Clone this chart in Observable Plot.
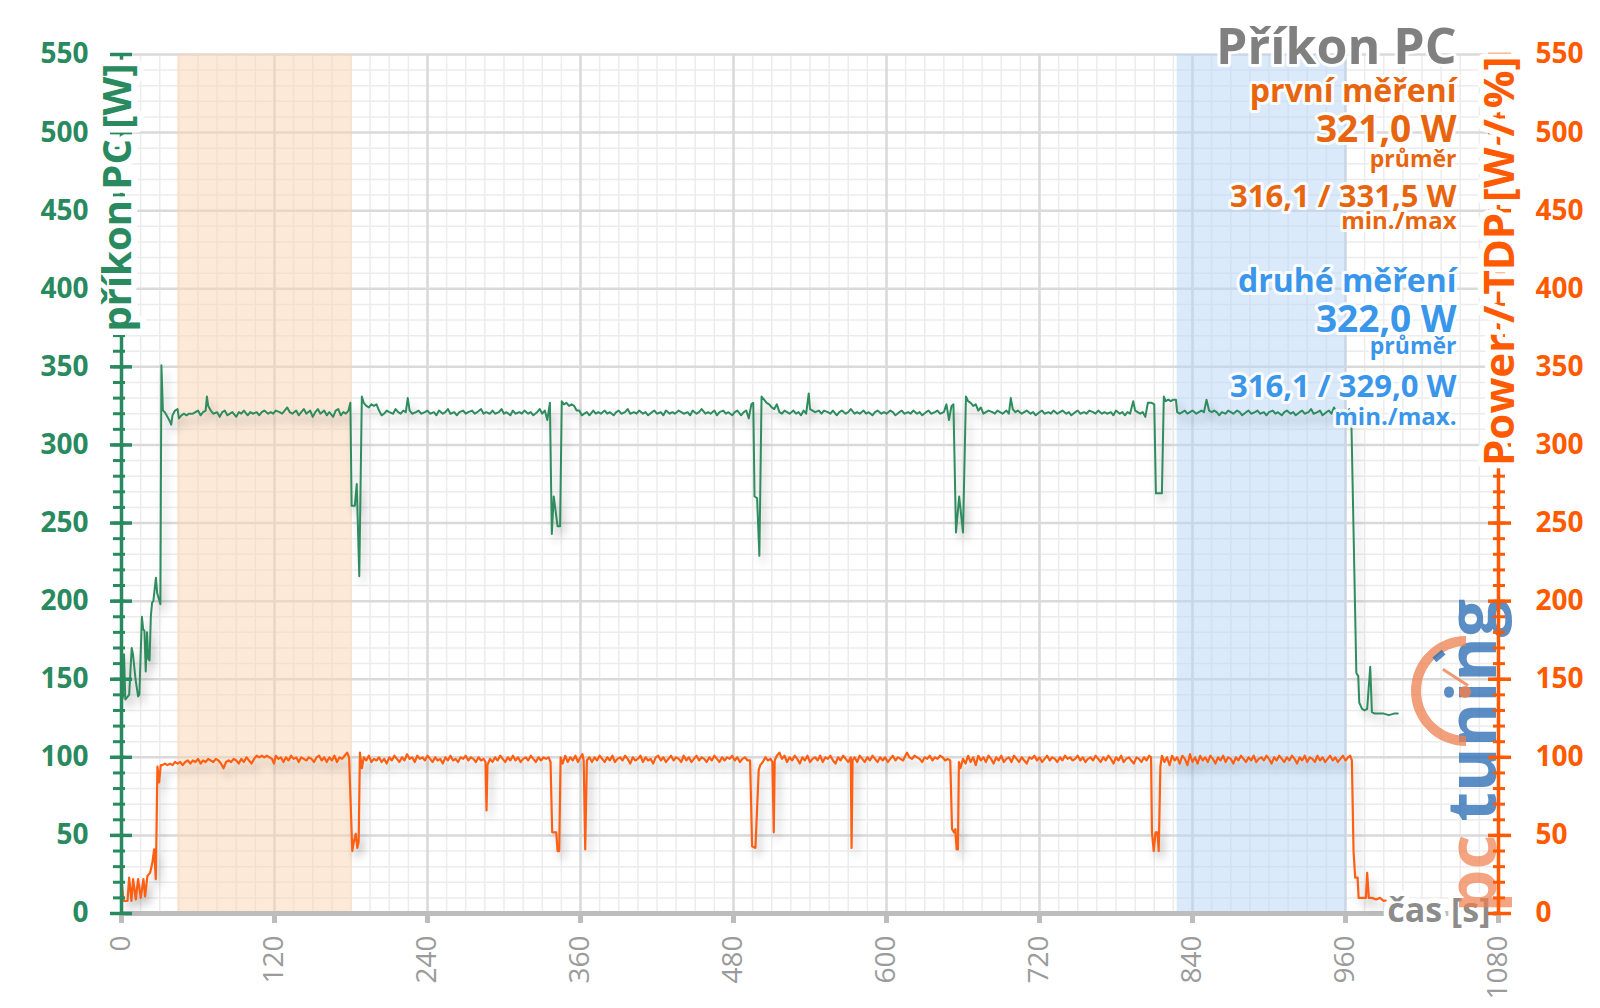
<!DOCTYPE html>
<html><head><meta charset="utf-8">
<script src="https://cdn.jsdelivr.net/npm/d3@7"></script>
<script src="https://cdn.jsdelivr.net/npm/@observablehq/plot@0.6"></script>
<style>
html,body{margin:0;padding:0;background:#fff;}
#chart{position:relative;width:1600px;height:1008px;overflow:hidden;}
#chart svg{font-family:"Open Sans",sans-serif;}
g[aria-label="line"]{filter:drop-shadow(4px 7px 4px rgba(0,0,0,0.24));}
#gauge{position:absolute;left:1411px;top:636px;width:90px;height:90px;border-radius:50%;border:10px solid transparent;border-top-color:rgba(238,128,80,0.75);border-left-color:rgba(238,128,80,0.75);transform:rotate(-45deg);}
#needle{position:absolute;left:1438px;top:684px;width:30px;height:3px;background:rgba(238,128,80,0.8);transform:rotate(33deg);transform-origin:100% 50%;}
#hub{position:absolute;left:1459px;top:686px;width:12px;height:12px;border-radius:50%;background:rgba(238,128,80,0.85);}
#mark{position:absolute;left:1436px;top:650px;width:6px;height:12px;background:rgba(45,110,180,0.8);transform:rotate(50deg);}
</style></head><body><div id="chart"><div id="gauge"></div><div id="needle"></div><div id="hub"></div><div id="mark"></div></div>
<script>
// ---- tick labels ----
const xTicks = [0,120,240,360,480,600,720,840,960,1080];
const yTicks = [0,50,100,150,200,250,300,350,400,450,500,550];

// ---- highlighted ranges (s) ----
const bandStart = [44, 828];
const bandEnd = [181, 961];

// ---- text block ----
const titleText = "Příkon PC";
const firstLines = ["první měření", "321,0 W", "průměr", "316,1 / 331,5 W", "min./max"];
const secondLines = ["druhé měření", "322,0 W", "průměr", "316,1 / 329,0 W", "min./max."];

// ---- series: PC power draw [W] as [time s, value] ----
const pcPower = [[0,172],[1,138],[2,166],[3,137],[5,139],[6,140],[8,170],[9,166],[11,150],[13,139],[14,140],[16,190],[17,182],[18,181],[19,155],[20,180],[21,163],[22,162],[23,190],[24,199],[25,200],[27,215],[28,205],[30.5,198],[31.3,351],[32.5,322],[34,321],[36,318],[38,315],[39,313],[40,319],[42,322],[44,323],[45,317],[47,319],[49,320],[51,319],[53,320],[56,320],[58,321],[60,322],[62,319],[64,321],[66,322],[67,331],[68,325],[70,322],[72,320],[75,321],[77,318],[79,321],[81,322],[83,319],[85,320],[87,321],[90,318],[92,321],[94,320],[96,322],[99,319],[101,321],[103,320],[106,321],[108,319],[110,321],[112,322],[115,320],[117,321],[119,320],[121,322],[124,321],[126,320],[128,322],[130,324],[132,321],[134,320],[137,322],[139,319],[141,321],[143,323],[145,320],[148,322],[150,318],[152,321],[154,323],[156,320],[159,322],[161,319],[163,321],[166,318],[168,322],[170,323],[172,319],[174,321],[176,320],[178,322],[179.5,327],[180.5,261],[183,261],[184.5,275],[186.5,216],[188.5,331],[190,327],[192,325],[194,324],[196,326],[198,325],[200,326],[202,322],[204,319],[206,320],[208,322],[210,321],[213,320],[215,323],[217,321],[219,320],[221,322],[223,321],[224.5,330],[226,322],[228,320],[231,321],[233,322],[235,320],[238,321],[240,322],[242,320],[245,321],[247,319],[249,322],[252,320],[254,321],[256,323],[258,320],[261,321],[263,319],[265,321],[268,322],[270,320],[272,321],[275,322],[277,320],[279,321],[282,323],[284,320],[286,321],[289,320],[291,322],[293,320],[296,321],[298,323],[300,320],[302,321],[305,319],[307,322],[309,320],[312,321],[314,320],[316,322],[319,320],[321,321],[323,319],[326,321],[328,323],[330,320],[332,322],[334,316],[336,327],[337.5,243],[339,267],[342,248],[344,248],[345.3,328],[347,326],[349,327],[351,325],[353,326],[355,325],[357,322],[359,322],[361,319],[363,320],[365,321],[367,319],[370,322],[372,320],[374,321],[376,320],[379,322],[381,320],[383,321],[386,319],[388,321],[390,322],[392,320],[395,321],[397,323],[399,320],[402,321],[404,320],[406,322],[409,320],[411,321],[413,319],[416,321],[418,322],[420,320],[423,321],[425,319],[427,322],[430,320],[432,321],[434,320],[437,322],[439,321],[441,320],[444,321],[446,319],[448,322],[451,320],[453,321],[455,323],[458,320],[460,321],[462,320],[465,322],[467,319],[469,321],[472,322],[474,320],[476,321],[479,319],[481,321],[483,322],[486,319],[488,321],[490,322],[492,317],[494,326],[495.5,327],[496.5,267],[498.5,266],[500.3,229],[502,331],[504,329],[506,327],[508,326],[510,324],[512,323],[514,326],[516,321],[518,320],[520,322],[522,321],[524,320],[527,322],[529,320],[531,321],[533,319],[535,322],[537,320],[539,333],[540,323],[542,322],[544,321],[547,322],[549,320],[551,322],[554,321],[556,320],[558,322],[561,319],[563,321],[565,322],[568,320],[570,321],[572,323],[575,320],[577,321],[579,320],[582,322],[584,320],[586,321],[589,319],[591,321],[593,322],[596,320],[598,321],[600,320],[603,322],[605,321],[607,319],[610,321],[612,322],[614,320],[617,321],[619,320],[621,322],[624,320],[626,321],[628,319],[631,321],[633,322],[635,320],[638,321],[640,322],[642,320],[645,321],[647,326],[649,316],[651,325],[652.5,326],[654.5,244],[657,267],[660,244],[662.3,331],[664,328],[666,327],[668,325],[670,326],[672,322],[674,324],[676,320],[678,321],[680,322],[683,321],[685,320],[687,322],[689,321],[691,320],[694,322],[696,320],[697.5,330],[699,323],[701,321],[703,322],[706,320],[708,321],[710,322],[713,320],[715,321],[717,319],[720,321],[722,322],[724,320],[727,321],[729,320],[731,322],[734,320],[736,321],[738,322],[741,320],[743,321],[745,319],[748,321],[750,322],[752,320],[755,321],[757,320],[759,322],[762,321],[764,320],[766,322],[769,320],[771,321],[773,320],[776,321],[778,319],[780,322],[783,320],[785,321],[787,319],[789,321],[791,320],[793.5,328],[795,322],[797,321],[799,320],[801,321],[803,318],[805,327],[808,327],[810,326],[811.3,269],[816,269],[817.5,331],[819,328],[821,329],[823,328],[825,329],[827,329],[828,321],[830,320],[832,321],[834,322],[836,320],[838,321],[840,322],[843,320],[845,321],[847,322],[849,321],[851,329],[853,322],[855,321],[857,322],[859,321],[861,319],[863,321],[866,320],[868,322],[870,321],[872,320],[875,322],[877,321],[879,319],[882,321],[884,322],[886,320],[889,321],[891,322],[893,320],[896,321],[898,319],[900,321],[903,322],[905,320],[907,321],[910,319],[912,321],[914,322],[917,320],[919,321],[921,319],[924,321],[926,322],[928,320],[931,321],[933,323],[935,320],[938,321],[940,322],[942,319],[945,321],[947,322],[949,320],[951,324],[953,321],[955,319],[957,322],[959,321],[961,320],[963,323],[964.5,320],[968.5,154],[970,152],[970.8,135],[973,131],[975,130],[977,131],[979.4,158],[980.7,129],[983,128],[986,128],[990,128],[994,127],[998,128],[1001,128]];

// ---- series: Power / TDP [W / %] as [time s, value] ----
const cpuPower = [[0,21],[1.6,8],[4.7,8],[6,23],[7.8,8],[9.1,22],[11.2,9],[13,22],[15.1,10],[17.2,22],[18.5,11],[20.3,24],[22.4,26],[24.3,33],[25.6,41],[26.9,22],[28.2,94],[29.5,84],[30.8,95],[32,95],[34,96],[36,95],[38,96],[40,95],[42,97],[44,96],[46,97],[48,95],[50,97],[52,98],[54,96],[56,98],[58,97],[60,99],[62,96],[64,98],[66,97],[68,99],[70,98],[72,97],[74,99],[76,98],[78,96],[80,93],[82,97],[84,98],[86,97],[88,99],[90,98],[92,96],[94,99],[96,97],[98,100],[100,98],[102,96],[104,99],[106,101],[108,100],[110,101],[112,100],[114,101],[116,100],[118,99],[119.6,96],[121,101],[123,99],[125,100],[127,97],[129,100],[131,98],[133,101],[135,99],[137,100],[139,97],[141,100],[143,99],[145,98],[147,100],[149,99],[151,97],[153,100],[155,101],[157,98],[159,100],[161,97],[163,100],[165,98],[167,101],[169,97],[171,100],[173,99],[175,101],[177,103],[178.5,100],[181,40],[182,45],[183.7,51],[185,42],[186,46],[187,103],[188.5,93],[190,100],[192,98],[194,101],[196,97],[198,99],[200,98],[202,100],[204,97],[206,99],[208,96],[210,100],[212,98],[214,101],[216,99],[218,97],[220,100],[222,98],[224,102],[226,99],[228,100],[230,97],[232,101],[234,99],[236,100],[238,98],[240,101],[242,99],[244,97],[246,100],[248,98],[250,99],[252,96],[254,100],[256,98],[258,101],[260,98],[262,99],[264,97],[266,100],[268,99],[270,101],[272,98],[274,100],[276,99],[278,97],[280,100],[282,98],[284,99],[285.5,97],[286.3,66],[287,95],[289,99],[291,97],[293,100],[295,98],[297,101],[299,99],[301,97],[303,100],[305,98],[307,101],[309,98],[311,100],[313,97],[315,99],[317,100],[319,98],[321,101],[323,99],[325,97],[327,100],[329,98],[331,100],[333,99],[335,100],[336.5,97],[337.8,52],[339,52],[341,52],[342,40],[343.3,40],[344.4,100],[346,96],[348,101],[350,97],[352,100],[354,98],[356,101],[358,97],[360,100],[361.5,102],[362.5,98],[363.7,41],[365,98],[367,100],[369,97],[371,100],[373,98],[375,101],[377,99],[379,97],[381,100],[383,98],[385,101],[387,97],[389,99],[391,100],[393,98],[395,101],[397,99],[399,96],[401,100],[403,98],[405,99],[407,101],[409,97],[411,100],[413,98],[415,99],[417,96],[419,100],[421,101],[423,98],[425,100],[427,97],[429,99],[431,101],[433,98],[435,100],[437,99],[439,97],[441,101],[443,98],[445,100],[447,97],[449,99],[451,101],[453,98],[455,100],[457,99],[459,97],[461,100],[463,98],[465,101],[467,99],[469,97],[471,100],[473,98],[475,100],[477,99],[479,101],[481,98],[483,100],[485,97],[487,99],[489,100],[491,98],[493,98],[494.6,43],[497.2,42],[499.8,92],[501,95],[503,97],[505,100],[507,98],[509,99],[510.5,97],[511.6,52],[512.3,98],[514,101],[516,103],[518,99],[520,101],[522,97],[524,100],[526,98],[528,101],[530,99],[532,96],[534,100],[536,98],[538,101],[540,97],[542,99],[544,100],[546,98],[548,101],[550,97],[552,100],[554,99],[556,101],[558,98],[560,96],[562,100],[564,98],[566,101],[568,99],[570,97],[572,100],[572.6,42],[573.4,98],[575,100],[577,97],[579,101],[581,99],[583,97],[585,100],[587,98],[589,101],[591,99],[593,97],[595,100],[597,98],[599,100],[601,97],[603,99],[605,101],[607,98],[609,100],[611,99],[613,98],[616,103],[618,100],[620,99],[622,101],[624,100],[626,99],[628,97],[630,100],[632,99],[634,101],[636,98],[638,100],[640,99],[642,101],[644,100],[646,98],[648,99],[650,98],[651.4,54],[653,52],[654,54],[655,41],[656,41],[656.8,97],[658,93],[660,99],[662,96],[664,101],[666,97],[668,100],[670,95],[672,101],[674,98],[676,100],[678,97],[680,101],[682,99],[684,96],[686,100],[688,98],[690,101],[692,97],[694,99],[696,100],[698,97],[700,101],[702,99],[704,97],[706,100],[708,98],[710,96],[712,100],[714,99],[716,101],[718,98],[720,100],[722,97],[724,99],[726,101],[728,98],[730,100],[732,99],[734,97],[736,100],[738,98],[740,101],[742,99],[744,100],[746,98],[748,99],[750,101],[752,98],[754,100],[756,97],[758,99],[760,100],[762,98],[764,101],[766,99],[768,97],[770,100],[772,98],[774,101],[776,99],[778,96],[780,100],[782,98],[784,101],[786,97],[788,99],[790,100],[792,98],[794,96],[796,100],[798,99],[800,97],[802,100],[804,98],[806,101],[807.5,100],[808.2,52],[809.6,40],[811,52],[812.5,52],[813.5,40],[814.8,94],[816,101],[818,97],[820,100],[822,95],[824,101],[826,98],[828,100],[830,96],[832,101],[834,99],[836,95],[838,102],[840,97],[842,100],[844,96],[846,101],[848,98],[850,100],[852,97],[854,101],[856,99],[858,96],[860,100],[862,98],[864,101],[866,97],[868,100],[870,99],[872,96],[874,100],[876,98],[878,101],[880,99],[882,97],[884,100],[886,98],[888,101],[890,97],[892,99],[894,100],[896,98],[898,101],[900,99],[902,96],[904,100],[906,98],[908,101],[910,99],[912,97],[914,100],[916,98],[918,101],[920,99],[922,96],[924,100],[926,98],[928,101],[930,97],[932,100],[934,99],[936,97],[938,101],[940,98],[942,100],[944,97],[946,99],[948,101],[950,98],[952,100],[954,97],[956,99],[958,101],[960,98],[962,100],[963.7,101],[965,98],[966.3,40],[967.6,23],[969.5,23],[970.3,10],[973,10],[976,10],[977,26],[978.3,10],[981,10],[984,9],[987,10],[990,8],[993.6,9]];

// ---- styling ----
const GREEN = "#2a8a5f", GREEN_LINE = "#2f8c5e";
const ORANGE = "#ff5a00", ORANGE_LINE = "#ff5f12", ORANGE_TXT = "#e8650f";
const BLUE = "#3996ea";
const bandFills = ["#f9d3b2", "#b5d5f8"];
const FONT = "Open Sans";

const minorX = d3.range(0, 1081, 15);
const minorY = d3.range(0, 551, 10);

function blockText(txt, size, color, baseline) {
  return Plot.text([txt], {
    frameAnchor: "top-right", text: d => d, dx: -42, dy: baseline - 54,
    lineAnchor: "bottom", textAnchor: "end",
    fontSize: size, fontWeight: "bold", fontFamily: FONT, fill: color,
    stroke: "white", strokeWidth: 6, strokeOpacity: 0.9, paintOrder: "stroke", strokeLinejoin: "round"
  });
}

const firstSizes = [32, 37, 23, 31, 24];
const firstBase = [101, 141, 166, 206, 228];
const secondSizes = [32, 37, 23, 31, 24];
const secondBase = [291, 331, 353, 396, 424];

const bands = bandStart.map((s, i) => ({s, e: bandEnd[i], i}));

const plot = Plot.plot({
  width: 1600, height: 1008,
  marginLeft: 121, marginRight: 102, marginTop: 54, marginBottom: 95,
  x: {domain: [0, 1080], axis: null},
  y: {domain: [0, 550], axis: null},
  style: {background: "white", fontFamily: FONT},
  marks: [
    Plot.ruleX(minorX, {stroke: "#ececec", strokeWidth: 1.5}),
    Plot.ruleY(minorY, {stroke: "#ececec", strokeWidth: 1.5}),
    Plot.ruleX(xTicks, {stroke: "#d9d9d9", strokeWidth: 2.5}),
    Plot.ruleY(yTicks, {stroke: "#dadada", strokeWidth: 2.5}),
    Plot.rect(bands, {x1: "s", x2: "e", y1: 0, y2: 550, fill: d => bandFills[d.i], fillOpacity: 0.5}),
    // axes lines
    Plot.ruleY([0], {stroke: "#bdbdbd", strokeWidth: 5}),
    Plot.ruleX(xTicks, {y1: 0, y2: 0, insetBottom: -10, stroke: "#bdbdbd", strokeWidth: 5}),
    // series
    Plot.line(cpuPower, {x: d => d[0], y: d => d[1], stroke: ORANGE_LINE, strokeWidth: 2.2}),
    Plot.line(pcPower, {x: d => d[0], y: d => d[1], stroke: GREEN_LINE, strokeWidth: 2}),
    // tick labels
    Plot.text(yTicks, {x: 0, y: d => d, text: d => String(d), textAnchor: "end", lineAnchor: "middle", dx: -33,
      fontSize: 28, fontWeight: "bold", fontFamily: FONT, fill: GREEN, letterSpacing: 0.5,
      stroke: "white", strokeWidth: 4, paintOrder: "stroke"}),
    Plot.text(yTicks, {x: 1080, y: d => d, text: d => String(d), textAnchor: "start", lineAnchor: "middle", dx: 37,
      fontSize: 28, fontWeight: "bold", fontFamily: FONT, fill: ORANGE, letterSpacing: 1.5}),
    Plot.text(xTicks, {x: d => d, y: 0, text: d => String(d), rotate: -90, textAnchor: "end", lineAnchor: "middle", dy: 22,
      fontSize: 28, fontFamily: FONT, fill: "#9b9b9b"}),
    Plot.text(["čas [s]"], {frameAnchor: "bottom-right", text: d => d, textAnchor: "end", lineAnchor: "middle",
      dx: -8, dy: -2, fontSize: 34, fontWeight: "bold", fontFamily: FONT, fill: "#8c8c8c",
      stroke: "white", strokeWidth: 10, paintOrder: "stroke", strokeLinejoin: "round"}),
    // logo (watermark)
    Plot.text(["pc"], {frameAnchor: "bottom-right", text: d => d, rotate: -90, textAnchor: "start", lineAnchor: "bottom",
      dx: -3, dy: -1, fontSize: 68, fontWeight: "bold", fontFamily: FONT, fill: "rgba(240,125,75,0.7)", letterSpacing: -4}),
    Plot.text(["tuning"], {frameAnchor: "bottom-right", text: d => d, rotate: -90, textAnchor: "start", lineAnchor: "bottom",
      dx: -3, dy: -92, fontSize: 68, fontWeight: "bold", fontFamily: FONT, fill: "rgba(45,110,180,0.78)", letterSpacing: -4}),
    // y axis lines and ticks
    Plot.ruleX([0], {stroke: GREEN, strokeWidth: 3.5}),
    Plot.ruleX([1080], {stroke: ORANGE, strokeWidth: 3.5}),
    Plot.ruleY(minorY, {x1: 0, x2: 0, insetLeft: -8, insetRight: -4, stroke: GREEN, strokeWidth: 3}),
    Plot.ruleY(yTicks, {x1: 0, x2: 0, insetLeft: -11, insetRight: -11, stroke: GREEN, strokeWidth: 3.5}),
    Plot.ruleY(minorY, {x1: 1080, x2: 1080, insetLeft: -5, insetRight: -7, stroke: ORANGE, strokeWidth: 3}),
    Plot.ruleY(yTicks, {x1: 1080, x2: 1080, insetLeft: -10, insetRight: -13, stroke: ORANGE, strokeWidth: 3.5}),
    // axis titles
    Plot.text(["příkon PC [W]"], {frameAnchor: "top-left", text: d => d, rotate: -90, textAnchor: "end", lineAnchor: "middle",
      dx: -3, dy: 9, fontSize: 40, fontWeight: "bold", fontFamily: FONT, fill: GREEN,
      stroke: "white", strokeWidth: 13, paintOrder: "stroke", strokeLinejoin: "round"}),
    Plot.text(["Power / TDP [W / %]"], {frameAnchor: "top-right", text: d => d, rotate: -90, textAnchor: "end", lineAnchor: "middle",
      dx: 2, dy: 2, fontSize: 42, fontWeight: "bold", fontFamily: FONT, fill: ORANGE,
      stroke: "white", strokeWidth: 12, paintOrder: "stroke", strokeLinejoin: "round"}),
    // title block
    blockText(titleText, 50, "#808080", 63),
    ...firstLines.map((t, i) => blockText(t, firstSizes[i], ORANGE_TXT, firstBase[i])),
    ...secondLines.map((t, i) => blockText(t, secondSizes[i], BLUE, secondBase[i]))
  ]
});
document.getElementById("chart").prepend(plot);
</script>
</body></html>
